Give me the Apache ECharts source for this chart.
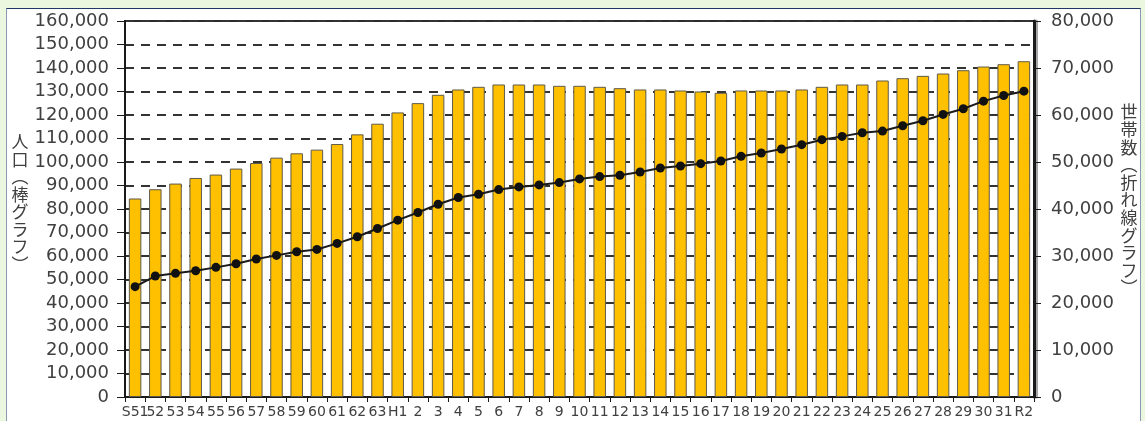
<!DOCTYPE html>
<html>
<head>
<meta charset="utf-8">
<script src="https://cdn.jsdelivr.net/npm/echarts@6/dist/echarts.min.js"></script>
<style>
  html, body { margin: 0; padding: 0; background: #ebf7de; }
  #panel { position: absolute; left: 6px; top: 8px; width: 1133px; height: 420px; background: #ffffff;
           border-top: 1px solid #1f3864; border-left: 1px solid #8a9ab5; border-right: 1px solid #8a9ab5; }
  #chart { position: absolute; left: 0; top: 0; width: 1145px; height: 421px; }
</style>
</head>
<body>
<div id="panel"></div>
<div id="chart"></div>
<script>
// Fiscal years (Showa S51–63, Heisei H1–31, Reiwa R2)
const categories = ['S51','52','53','54','55','56','57','58','59','60','61','62','63',
  'H1','2','3','4','5','6','7','8','9','10','11','12','13','14','15','16','17','18','19','20',
  '21','22','23','24','25','26','27','28','29','30','31','R2'];

// 人口 (bars, left axis)
const population = [84470, 88410, 90820, 93210, 94650, 97200, 99580, 101850, 103700, 105260,
  107640, 111760, 116290, 121100, 125050, 128600, 130860, 131990, 132980, 132980,
  132980, 132420, 132420, 131990, 131420, 130860, 130860, 130430, 130010, 129440,
  130430, 130430, 130430, 130860, 131990, 132980, 132980, 134680, 135670, 136660,
  137650, 139060, 140620, 141610, 142880];

// 世帯数 (line, right axis)
const households = [23480, 25740, 26310, 26870, 27580, 28360, 29350, 30130, 30910, 31400,
  32680, 34090, 35860, 37630, 39250, 41020, 42440, 43140, 44130, 44700,
  45120, 45620, 46400, 46890, 47180, 47880, 48730, 49160, 49650, 50220,
  51210, 51920, 52770, 53690, 54750, 55450, 56230, 56580, 57720, 58780,
  60120, 61330, 62950, 64160, 65070];

// Axis ranges / tick labels
const leftAxisMax = 160000, leftAxisStep = 10000;
const rightAxisMax = 80000, rightAxisStep = 10000;
const leftAxisTitle = '人口（棒グラフ）';
const rightAxisTitle = '世帯数（折れ線グラフ）';

function verticalText(s) {
  return Array.from(s).map(c => c === '（' ? '︵' : c === '）' ? '︶' : c).join('\n');
}
const fmt = v => Number(v).toLocaleString('en-US');
const labelColor = '#404040';
const numFont = 'DejaVu Sans';
const cjkFont = '"Noto Sans CJK JP", "Noto Sans CJK SC", sans-serif';

const chart = echarts.init(document.getElementById('chart'), null, { renderer: 'canvas' });
chart.setOption({
  animation: false,
  backgroundColor: 'transparent',
  grid: { left: 125, top: 21, width: 909, height: 376, show: true, borderColor: '#2b2b2b', borderWidth: 2, backgroundColor: 'transparent' },
  xAxis: {
    type: 'category',
    data: categories,
    boundaryGap: true,
    axisLine: { show: true, lineStyle: { color: '#1a1a1a', width: 2 } },
    axisTick: { show: true, inside: false, length: 5, alignWithLabel: false, lineStyle: { color: '#1a1a1a', width: 1 } },
    axisLabel: { interval: 0, margin: 8, color: labelColor, fontFamily: numFont, fontSize: 14 },
    splitLine: { show: false }
  },
  yAxis: [
    {
      type: 'value', min: 0, max: leftAxisMax, interval: leftAxisStep, position: 'left',
      axisLine: { show: true, lineStyle: { color: '#1a1a1a', width: 2 } },
      axisTick: { show: true, length: 8, lineStyle: { color: '#1a1a1a', width: 1 } },
      axisLabel: { margin: 16, color: labelColor, fontFamily: numFont, fontSize: 18, formatter: fmt },
      splitLine: { show: true, lineStyle: { color: '#333333', width: 2, type: [9, 7] } }
    },
    {
      type: 'value', min: 0, max: rightAxisMax, interval: rightAxisStep, position: 'right',
      axisLine: { show: true, lineStyle: { color: '#1a1a1a', width: 3, shadowColor: 'rgba(0,0,0,0.35)', shadowOffsetX: 2 } },
      axisTick: { show: true, length: 7, lineStyle: { color: '#1a1a1a', width: 1 } },
      axisLabel: { margin: 17, color: labelColor, fontFamily: numFont, fontSize: 18, formatter: fmt },
      splitLine: { show: false }
    }
  ],
  graphic: [
    { type: 'text', x: 20, y: 203, z: 10,
      style: { text: verticalText(leftAxisTitle), align: 'center', verticalAlign: 'middle',
               font: '17px ' + cjkFont, lineHeight: 17.5, fill: labelColor } },
    { type: 'text', x: 1129, y: 200, z: 10,
      style: { text: verticalText(rightAxisTitle), align: 'center', verticalAlign: 'middle',
               font: '17px ' + cjkFont, lineHeight: 17.6, fill: labelColor } }
  ],
  series: [
    {
      name: '人口', type: 'bar', yAxisIndex: 0, data: population,
      barWidth: 12.5,
      itemStyle: { color: '#ffc000', borderColor: '#5f5a4a', borderWidth: 1 }
    },
    {
      name: '世帯数', type: 'line', yAxisIndex: 1, data: households, z: 5,
      symbol: 'circle', symbolSize: 9,
      lineStyle: { color: '#1a1a1a', width: 2 },
      itemStyle: { color: '#111111' }
    }
  ]
});
</script>
</body>
</html>
